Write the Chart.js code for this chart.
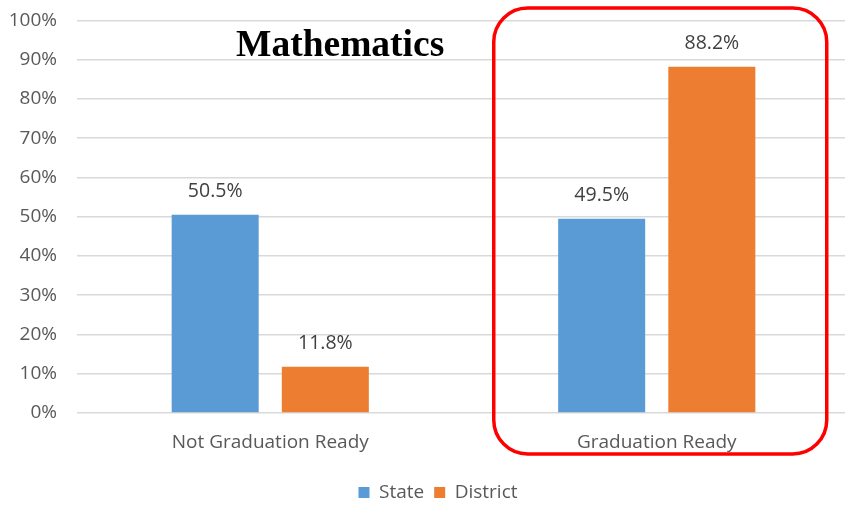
<!DOCTYPE html>
<html>
<head>
<meta charset="utf-8">
<script src="https://cdn.jsdelivr.net/npm/chart.js@4/dist/chart.umd.min.js"></script>
<style>
    html, body { margin: 0; padding: 0; background: #fff; overflow: hidden; }
    #wrap { position: relative; width: 851px; height: 505px; overflow: hidden; }
    #chart { position: absolute; left: 0; top: -11px; }
    #title {
        position: absolute; left: 236px; top: 25px; width: 200px; text-align: center; line-height: 1;
        font-family: "Liberation Serif", "Times New Roman", serif; font-weight: bold; font-size: 37.5px;
        color: #000; white-space: nowrap;
    }
</style>
</head>
<body>
<div id="wrap">
    <canvas id="chart" width="851" height="516"></canvas>
    <div id="title">Mathematics</div>
</div>
<script>
const categories = ['Not Graduation Ready', 'Graduation Ready'];
const stateValues = [50.5, 49.5];
const districtValues = [11.8, 88.2];
const yTicks = [0, 10, 20, 30, 40, 50, 60, 70, 80, 90, 100];

const fontFamily = '"Open Sans", "Liberation Sans", sans-serif';

// value labels above each bar
const barLabels = {
    id: 'barLabels',
    afterDatasetsDraw(chart) {
        const ctx = chart.ctx;
        ctx.save();
        ctx.font = '19.5px ' + fontFamily;
        ctx.fillStyle = '#404040';
        ctx.textAlign = 'center';
        ctx.textBaseline = 'middle';
        chart.data.datasets.forEach((ds, i) => {
            chart.getDatasetMeta(i).data.forEach((bar, j) => {
                ctx.fillText(ds.data[j].toFixed(1) + '%', bar.x, bar.y - 23);
            });
        });
        ctx.restore();
    }
};

// red rounded box around the second group (canvas is shifted up 11px)
const highlightBox = {
    id: 'highlightBox',
    afterDraw(chart) {
        const ctx = chart.ctx;
        const cx = chart.scales.x.getPixelForValue(1);
        const x = cx - 163, y = 19, w = 333, h = 446, r = 34;
        ctx.save();
        ctx.strokeStyle = '#FF0000';
        ctx.lineWidth = 3.5;
        ctx.beginPath();
        ctx.roundRect(x, y, w, h, r);
        ctx.stroke();
        ctx.restore();
    }
};

// legend sits a bit right of the canvas centre
const legendShift = {
    id: 'legendShift',
    afterLayout(chart) {
        chart.legend.left += 13;
        chart.legend.right += 13;
    }
};

new Chart(document.getElementById('chart').getContext('2d'), {
    type: 'bar',
    data: {
        labels: categories,
        datasets: [
            { label: 'State', data: stateValues, backgroundColor: '#5B9BD5' },
            { label: 'District', data: districtValues, backgroundColor: '#ED7D31' }
        ]
    },
    options: {
        responsive: false,
        animation: false,
        barPercentage: 0.79,
        categoryPercentage: 0.57,
        layout: { padding: { top: 0, right: 1, bottom: -7, left: 0 } },
        scales: {
            x: {
                grid: { display: false },
                border: { display: false },
                afterFit: (scale) => { scale.height = 60; },
                ticks: { color: '#595959', font: { family: fontFamily, size: 19 }, padding: 10 }
            },
            y: {
                min: 0, max: 100,
                afterBuildTicks: (scale) => { scale.ticks = yTicks.map(v => ({ value: v })); },
                afterFit: (scale) => { scale.width = 77; },
                grid: { color: '#D9D9D9', lineWidth: 1.5, drawTicks: false },
                border: { display: false },
                ticks: {
                    color: '#595959', padding: 20,
                    font: { family: fontFamily, size: 19 },
                    callback: (v) => v + '%'
                }
            }
        },
        plugins: {
            legend: {
                position: 'bottom',
                labels: {
                    boxWidth: 11, boxHeight: 11, color: '#595959',
                    font: { family: fontFamily, size: 19 }, padding: 10
                }
            },
            tooltip: { enabled: false }
        }
    },
    plugins: [barLabels, highlightBox, legendShift]
});
</script>
</body>
</html>
